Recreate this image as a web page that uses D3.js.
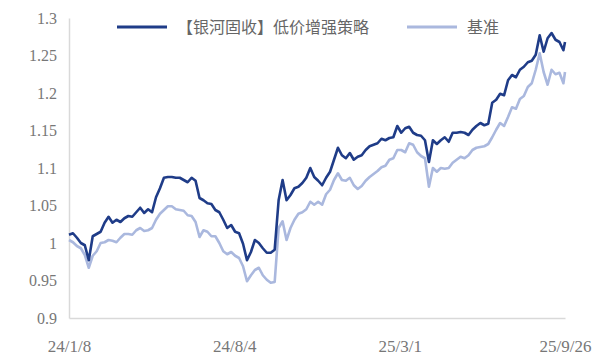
<!DOCTYPE html>
<html>
<head>
<meta charset="utf-8">
<script src="https://cdn.jsdelivr.net/npm/d3@7"></script>
<style>
  body { margin: 0; background: #fff; }
</style>
</head>
<body>
<div id="graph"></div>
<script>
const width = 597, height = 360;
const plotLeft = 69, plotRight = 565, plotTop = 18, plotBottom = 318;
const serif = "'Liberation Serif', 'DejaVu Serif', serif";

// dates of the sampled points (every ~5 days)
const dates = [
  "2024-01-08","2024-01-13","2024-01-18","2024-01-23","2024-01-28","2024-02-02","2024-02-07","2024-02-12","2024-02-17","2024-02-22",
  "2024-02-27","2024-03-03","2024-03-08","2024-03-13","2024-03-18","2024-03-23","2024-03-28","2024-04-02","2024-04-07","2024-04-12",
  "2024-04-17","2024-04-22","2024-04-27","2024-05-02","2024-05-07","2024-05-12","2024-05-17","2024-05-22","2024-05-27","2024-06-01",
  "2024-06-06","2024-06-11","2024-06-16","2024-06-21","2024-06-26","2024-07-01","2024-07-06","2024-07-11","2024-07-16","2024-07-21",
  "2024-07-26","2024-07-31","2024-08-05","2024-08-10","2024-08-15","2024-08-20","2024-08-25","2024-08-30","2024-09-04","2024-09-09",
  "2024-09-14","2024-09-19","2024-09-24","2024-09-29","2024-10-04","2024-10-09","2024-10-14","2024-10-19","2024-10-24","2024-10-29",
  "2024-11-03","2024-11-08","2024-11-13","2024-11-18","2024-11-23","2024-11-28","2024-12-03","2024-12-08","2024-12-13","2024-12-18",
  "2024-12-23","2024-12-28","2025-01-02","2025-01-07","2025-01-12","2025-01-17","2025-01-22","2025-01-27","2025-02-01","2025-02-06",
  "2025-02-11","2025-02-16","2025-02-21","2025-02-26","2025-03-03","2025-03-08","2025-03-13","2025-03-18","2025-03-23","2025-03-28",
  "2025-04-02","2025-04-07","2025-04-12","2025-04-17","2025-04-22","2025-04-27","2025-05-02","2025-05-07","2025-05-12","2025-05-17",
  "2025-05-22","2025-05-27","2025-06-01","2025-06-06","2025-06-11","2025-06-16","2025-06-21","2025-06-26","2025-07-01","2025-07-06",
  "2025-07-11","2025-07-16","2025-07-21","2025-07-26","2025-07-31","2025-08-05","2025-08-10","2025-08-15","2025-08-20","2025-08-25",
  "2025-08-30","2025-09-04","2025-09-09","2025-09-14","2025-09-19","2025-09-24","2025-09-26"
];

// 【银河固收】低价增强策略
const strategy = [
  1.011,1.013,1.007,1.000,0.997,0.977,1.009,1.012,1.015,1.027,
  1.035,1.027,1.031,1.028,1.033,1.036,1.035,1.041,1.047,1.040,
  1.045,1.041,1.061,1.073,1.087,1.088,1.088,1.087,1.087,1.084,
  1.081,1.087,1.083,1.060,1.057,1.053,1.052,1.044,1.041,1.031,
  1.020,1.024,1.015,1.013,0.999,0.977,0.988,1.004,1.000,0.993,
  0.987,0.987,0.991,1.057,1.084,1.057,1.064,1.073,1.075,1.080,
  1.087,1.100,1.088,1.083,1.077,1.087,1.095,1.111,1.127,1.117,
  1.113,1.120,1.111,1.115,1.117,1.124,1.129,1.131,1.133,1.139,
  1.137,1.140,1.141,1.156,1.147,1.153,1.155,1.147,1.144,1.143,
  1.137,1.108,1.137,1.132,1.137,1.141,1.135,1.147,1.147,1.148,
  1.147,1.144,1.151,1.156,1.160,1.157,1.159,1.187,1.191,1.199,
  1.197,1.217,1.224,1.221,1.231,1.235,1.241,1.243,1.251,1.277,
  1.255,1.273,1.280,1.271,1.268,1.257,1.268
];

// 基准
const benchmark = [
  1.004,1.001,0.996,0.993,0.984,0.967,0.983,0.989,1.000,1.001,
  1.004,1.003,1.001,1.007,1.012,1.012,1.011,1.017,1.020,1.016,
  1.017,1.020,1.031,1.039,1.044,1.049,1.049,1.045,1.044,1.043,
  1.037,1.036,1.028,1.008,1.017,1.015,1.009,1.009,1.000,0.989,
  0.985,0.988,0.983,0.980,0.969,0.949,0.957,0.964,0.967,0.957,
  0.951,0.947,0.948,1.020,1.029,1.004,1.020,1.031,1.039,1.041,
  1.045,1.055,1.051,1.055,1.051,1.065,1.071,1.084,1.093,1.084,
  1.083,1.087,1.077,1.072,1.076,1.083,1.088,1.092,1.096,1.101,
  1.103,1.111,1.113,1.124,1.124,1.121,1.133,1.131,1.121,1.116,
  1.113,1.075,1.100,1.095,1.100,1.099,1.100,1.107,1.111,1.115,
  1.113,1.117,1.124,1.127,1.128,1.129,1.132,1.141,1.151,1.160,
  1.156,1.168,1.181,1.179,1.192,1.196,1.208,1.213,1.231,1.253,
  1.228,1.211,1.231,1.225,1.227,1.213,1.228
];

const yTicks = [0.9, 0.95, 1, 1.05, 1.1, 1.15, 1.2, 1.25, 1.3];
const xTicks = ["2024-01-08", "2024-08-04", "2025-03-01", "2025-09-26"];
const seriesNames = ["【银河固收】低价增强策略", "基准"];
const colors = ["#1f3c88", "#aab8de"];

const parse = d3.timeParse("%Y-%m-%d");
const days = dates.map(parse);

let svg =
d3.select("#graph").
append("svg").
attr("width", width).
attr("height", height);

const xScale =
d3.scaleTime().
domain([parse(dates[0]), parse(dates[dates.length - 1])]).
range([plotLeft, plotRight]);
const yScale =
d3.scaleLinear().
domain([0.9, 1.3]).
range([plotBottom, plotTop]);

const yAxis =
svg.append("g").
attr("transform", "translate(" + plotLeft + ",0)").
call(d3.axisLeft(yScale).tickValues(yTicks).tickSize(0).tickPadding(12).
  tickFormat(d => String(+d.toFixed(2))));
const xAxis =
svg.append("g").
attr("transform", "translate(0," + plotBottom + ")").
call(d3.axisBottom(xScale).tickValues(xTicks.map(parse)).tickSize(0).tickPadding(22).
  tickFormat(d3.timeFormat("%y/%-m/%-d")));

svg.selectAll(".domain").attr("stroke", "#d9d9d9").attr("stroke-width", 1.5);
yAxis.selectAll("text").
style("font-family", serif).
style("font-size", "16px").
style("fill", "#777");
xAxis.selectAll("text").
style("font-family", serif).
style("font-size", "17px").
style("fill", "#777");

const line = vals => d3.line().
x((d, i) => xScale(days[i])).
y(d => yScale(d))(vals);

[benchmark, strategy].forEach((vals, j) => {
  svg.append("path").
  attr("d", line(vals)).
  attr("fill", "none").
  attr("stroke", j === 0 ? colors[1] : colors[0]).
  attr("stroke-width", 2.6).
  attr("stroke-linejoin", "round");
});

// legend
const legendX = [117, 407];
seriesNames.forEach((name, i) => {
  svg.append("line").
  attr("x1", legendX[i]).attr("x2", legendX[i] + 50).
  attr("y1", 27).attr("y2", 27).
  attr("stroke", colors[i]).
  attr("stroke-width", 3);
  svg.append("text").
  attr("x", legendX[i] + 60).
  attr("y", 33).
  style("font-size", "16px").
  style("font-family", "'Noto Sans CJK SC', sans-serif").
  style("fill", "#666").
  text(name);
});
</script>
</body>
</html>
